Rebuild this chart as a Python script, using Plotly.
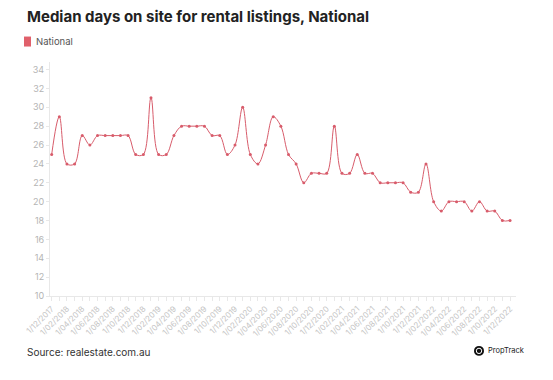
import plotly.graph_objects as go

months = [
    "1/12/2017", "1/01/2018", "1/02/2018", "1/03/2018", "1/04/2018", "1/05/2018", "1/06/2018",
    "1/07/2018", "1/08/2018", "1/09/2018", "1/10/2018", "1/11/2018", "1/12/2018",
    "1/01/2019", "1/02/2019", "1/03/2019", "1/04/2019", "1/05/2019", "1/06/2019",
    "1/07/2019", "1/08/2019", "1/09/2019", "1/10/2019", "1/11/2019", "1/12/2019",
    "1/01/2020", "1/02/2020", "1/03/2020", "1/04/2020", "1/05/2020", "1/06/2020",
    "1/07/2020", "1/08/2020", "1/09/2020", "1/10/2020", "1/11/2020", "1/12/2020",
    "1/01/2021", "1/02/2021", "1/03/2021", "1/04/2021", "1/05/2021", "1/06/2021",
    "1/07/2021", "1/08/2021", "1/09/2021", "1/10/2021", "1/11/2021", "1/12/2021",
    "1/01/2022", "1/02/2022", "1/03/2022", "1/04/2022", "1/05/2022", "1/06/2022",
    "1/07/2022", "1/08/2022", "1/09/2022", "1/10/2022", "1/11/2022", "1/12/2022",
]

national = [
    25, 29, 24, 24, 27, 26, 27, 27, 27, 27, 27, 25, 25,
    31, 25, 25, 27, 28, 28, 28, 28, 27, 27, 25, 26,
    30, 25, 24, 26, 29, 28, 25, 24, 22, 23, 23, 23,
    28, 23, 23, 25, 23, 23, 22, 22, 22, 22, 21, 21,
    24, 20, 19, 20, 20, 20, 19, 20, 19, 19, 18, 18,
]

label_idx = list(range(0, len(months), 2))
label_text = [months[i] for i in label_idx]

y_ticks = list(range(10, 35, 2))

LINE = "#d85c6b"
LEGEND_SWATCH = "#e0606b"
FONT = "Inter"

# page body has an 8px margin, so the figure is drawn 8px in from the window edge
OFF = 8
W, H = 553 - OFF, 380 - OFF
L, R, T, B = 50 - OFF, 37, 61.5 - OFF, 84
pw, ph = W - L - R, H - T - B


def px_x(px):
    return (px - OFF - L) / pw


def px_y(py):
    return (H - B - (py - OFF)) / ph


fig = go.Figure()
fig.add_trace(go.Scatter(
    x=list(range(len(months))), y=national, name="National",
    mode="lines+markers",
    line=dict(color=LINE, width=1, shape="spline", smoothing=1.0),
    marker=dict(color=LINE, size=3),
    showlegend=False,
    customdata=months,
    hovertemplate="%{customdata}: %{y}<extra>National</extra>",
))

fig.update_layout(
    width=W, height=H,
    margin=dict(l=L, r=R, t=T, b=B, autoexpand=False),
    paper_bgcolor="white", plot_bgcolor="white",
    font=dict(family=FONT, color="#444"),
    title=dict(
        text="<b>Median days on site for rental listings, National</b>",
        x=(27 - OFF) / W, xref="container", xanchor="left",
        y=1 - (17 - OFF) / H, yref="container", yanchor="middle",
        pad=dict(l=0, r=0, t=0, b=0),
        font=dict(size=15, color="#222", family=FONT),
    ),
    xaxis=dict(
        range=[-0.22, 60.78], showgrid=False, zeroline=False, automargin=False,
        showline=True, linecolor="#e8e8e8", linewidth=1,
        tickmode="array", tickvals=label_idx, ticktext=label_text,
        ticks="outside", ticklen=4, tickcolor="#e8e8e8",
        minor=dict(dtick=1, tick0=0, ticks="outside", ticklen=4, tickcolor="#e8e8e8"),
        tickangle=-45, tickfont=dict(size=8, color="#c4c4c4"),
    ),
    yaxis=dict(
        range=[10, 34.8], showgrid=False, zeroline=False, automargin=False,
        showline=True, linecolor="#e8e8e8", linewidth=1,
        tickmode="array", tickvals=y_ticks,
        ticks="outside", ticklen=3, tickcolor="#e8e8e8",
        tickfont=dict(size=9, color="#b4b4b4"),
    ),
    shapes=[
        dict(type="rect", xref="paper", yref="paper",
             x0=px_x(24), x1=px_x(31), y0=px_y(46), y1=px_y(36),
             fillcolor=LEGEND_SWATCH, line=dict(width=0)),
        dict(type="circle", xref="paper", yref="paper",
             x0=px_x(474), x1=px_x(484), y0=px_y(356), y1=px_y(346),
             fillcolor="#111", line=dict(width=0)),
        dict(type="circle", xref="paper", yref="paper",
             x0=px_x(476.3), x1=px_x(481.7), y0=px_y(353.7), y1=px_y(348.3),
             fillcolor="rgba(0,0,0,0)", line=dict(width=1, color="white")),
    ],
    annotations=[
        dict(text="National", xref="paper", yref="paper",
             x=px_x(34), y=px_y(41), xanchor="left", yanchor="middle",
             showarrow=False, font=dict(size=9.5, color="#555", family=FONT)),
        dict(text="Source: realestate.com.au", xref="paper", yref="paper",
             x=px_x(25), y=px_y(352), xanchor="left", yanchor="middle",
             showarrow=False, font=dict(size=10, color="#333", family=FONT)),
        dict(text="PropTrack", xref="paper", yref="paper",
             x=px_x(486), y=px_y(351), xanchor="left", yanchor="middle",
             showarrow=False, font=dict(size=7.5, color="#222", family=FONT)),
    ],
)

fig.write_html("out.html")
